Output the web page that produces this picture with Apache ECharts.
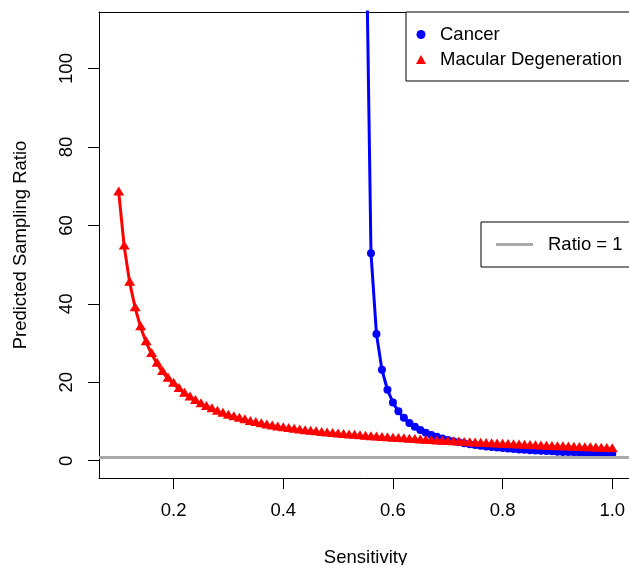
<!DOCTYPE html>
<html>
<head>
<meta charset="utf-8">
<script src="https://cdn.jsdelivr.net/npm/echarts@6/dist/echarts.min.js"></script>
<style>body { margin: 0; }</style>
</head>
<body>
<div id="chart" style="width: 629px; height: 565px;"></div>
<script type="text/javascript">
    // Data
    var macSens = [0.10, 0.11, 0.12, 0.13, 0.14, 0.15, 0.16, 0.17, 0.18, 0.19,
        0.20, 0.21, 0.22, 0.23, 0.24, 0.25, 0.26, 0.27, 0.28, 0.29,
        0.30, 0.31, 0.32, 0.33, 0.34, 0.35, 0.36, 0.37, 0.38, 0.39,
        0.40, 0.41, 0.42, 0.43, 0.44, 0.45, 0.46, 0.47, 0.48, 0.49,
        0.50, 0.51, 0.52, 0.53, 0.54, 0.55, 0.56, 0.57, 0.58, 0.59,
        0.60, 0.61, 0.62, 0.63, 0.64, 0.65, 0.66, 0.67, 0.68, 0.69,
        0.70, 0.71, 0.72, 0.73, 0.74, 0.75, 0.76, 0.77, 0.78, 0.79,
        0.80, 0.81, 0.82, 0.83, 0.84, 0.85, 0.86, 0.87, 0.88, 0.89,
        0.90, 0.91, 0.92, 0.93, 0.94, 0.95, 0.96, 0.97, 0.98, 0.99, 1.00];
    var macRatio = [68.4, 54.6, 45.4, 38.9, 34.0, 30.2, 27.2, 24.7, 22.6, 20.9,
        19.6, 18.3, 17.1, 16.1, 15.2, 14.4, 13.7, 13.1, 12.5, 12.0,
        11.5, 11.1, 10.7, 10.3, 9.9, 9.6, 9.3, 9.0, 8.75, 8.5,
        8.3, 8.1, 7.9, 7.72, 7.55, 7.4, 7.25, 7.1, 6.96, 6.82,
        6.69, 6.57, 6.45, 6.34, 6.23, 6.12, 6.02, 5.92, 5.82, 5.72,
        5.63, 5.54, 5.45, 5.36, 5.28, 5.19, 5.1, 5.02, 4.93, 4.85,
        4.77, 4.7, 4.62, 4.55, 4.47, 4.4, 4.33, 4.26, 4.19, 4.12,
        4.05, 3.99, 3.93, 3.87, 3.81, 3.75, 3.69, 3.63, 3.57, 3.52,
        3.46, 3.41, 3.36, 3.31, 3.26, 3.21, 3.16, 3.11, 3.06, 3.01, 2.96];
    var cancerSens = [0.55, 0.56, 0.57, 0.58, 0.59,
        0.60, 0.61, 0.62, 0.63, 0.64, 0.65, 0.66, 0.67, 0.68, 0.69,
        0.70, 0.71, 0.72, 0.73, 0.74, 0.75, 0.76, 0.77, 0.78, 0.79,
        0.80, 0.81, 0.82, 0.83, 0.84, 0.85, 0.86, 0.87, 0.88, 0.89,
        0.90, 0.91, 0.92, 0.93, 0.94, 0.95, 0.96, 0.97, 0.98, 0.99, 1.00];
    var cancerRatio = [147.5, 52.9, 32.3, 23.2, 18.1,
        14.86, 12.59, 10.93, 9.65, 8.64, 7.82, 7.15, 6.58, 6.09, 5.67,
        5.31, 4.99, 4.70, 4.45, 4.22, 4.02, 3.83, 3.66, 3.51, 3.36,
        3.23, 3.11, 3.00, 2.89, 2.79, 2.70, 2.62, 2.54, 2.46, 2.39,
        2.32, 2.26, 2.20, 2.14, 2.09, 2.04, 1.99, 1.94, 1.90, 1.85, 1.81];
    var refRatio = 1;
    var xTicks = [0.2, 0.4, 0.6, 0.8, 1.0];
    var yTicks = [0, 20, 40, 60, 80, 100];

    var font = '"Liberation Sans", Arial, sans-serif';
    var txt = { fontFamily: font, fontSize: 18.5, color: '#000' };

    function pairs(xs, ys) {
        return xs.map(function (x, i) { return [x, ys[i]]; });
    }

    var chart = echarts.init(document.getElementById('chart'));
    var option = {
        animation: false,
        backgroundColor: '#fff',
        grid: { left: 99, right: -3, top: 12, bottom: 87, outerBoundsMode: 'none', containLabel: false },
        xAxis: [{
            type: 'value', min: 0.064, max: 1.036,
            name: 'Sensitivity', nameLocation: 'middle', nameGap: 70, nameTextStyle: txt,
            splitLine: { show: false },
            axisLine: { show: true, onZero: false, lineStyle: { color: '#000', width: 1 } },
            axisTick: { show: true, length: 11, lineStyle: { color: '#000' }, customValues: xTicks },
            axisLabel: Object.assign({ customValues: xTicks, margin: 23, formatter: function (v) { return v.toFixed(1); } }, txt)
        }, {
            // top edge of the plot box
            type: 'value', position: 'top', min: 0.064, max: 1.036,
            splitLine: { show: false },
            axisLine: { show: true, onZero: false, lineStyle: { color: '#000', width: 1 } },
            axisTick: { show: false }, axisLabel: { show: false }
        }],
        yAxis: {
            type: 'value', min: -4.4, max: 114.4,
            name: 'Predicted Sampling Ratio', nameLocation: 'middle', nameRotate: 90, nameGap: 69, nameTextStyle: txt,
            splitLine: { show: false },
            axisLine: { show: true, onZero: false, lineStyle: { color: '#000', width: 1 } },
            axisTick: { show: true, length: 11, lineStyle: { color: '#000' }, customValues: yTicks },
            axisLabel: Object.assign({ customValues: yTicks, margin: 23, rotate: 90 }, txt)
        },
        legend: [{
            left: 406, top: 12, orient: 'vertical',
            padding: [13, 16, 12, 10], itemGap: 6, itemWidth: 10, itemHeight: 9,
            borderColor: '#000', borderWidth: 1, borderRadius: 0, backgroundColor: '#fff',
            selectedMode: false,
            data: [{ name: 'Cancer', icon: 'circle' }, { name: 'Macular Degeneration', icon: 'triangle' }],
            textStyle: Object.assign({ lineHeight: 18, padding: [0, 0, 0, 9] }, txt)
        }, {
            left: 481, top: 222, orient: 'vertical',
            padding: [13, 16, 13, 15], itemWidth: 37, itemHeight: 3,
            borderColor: '#000', borderWidth: 1, borderRadius: 0, backgroundColor: '#fff',
            selectedMode: false,
            data: [{ name: 'Ratio = 1', icon: 'rect' }],
            textStyle: Object.assign({ lineHeight: 18, padding: [0, 0, 0, 10] }, txt)
        }],
        series: [{
            name: 'Cancer', type: 'line', data: pairs(cancerSens, cancerRatio),
            color: '#0000ff', symbol: 'circle', symbolSize: 8,
            lineStyle: { width: 3 }, clip: true, silent: true
        }, {
            name: 'Macular Degeneration', type: 'line', data: pairs(macSens, macRatio),
            color: '#ff0000', symbol: 'triangle', symbolSize: [11, 9], symbolOffset: [0, -1.5],
            lineStyle: { width: 3 }, clip: true, silent: true
        }, {
            name: 'Ratio = 1', type: 'line', data: [], color: '#a9a9a9',
            markLine: {
                silent: true, symbol: 'none', label: { show: false },
                lineStyle: { color: '#a9a9a9', width: 3, type: 'solid' },
                data: [{ yAxis: refRatio }]
            }
        }]
    };
    chart.setOption(option);
</script>
</body>
</html>
